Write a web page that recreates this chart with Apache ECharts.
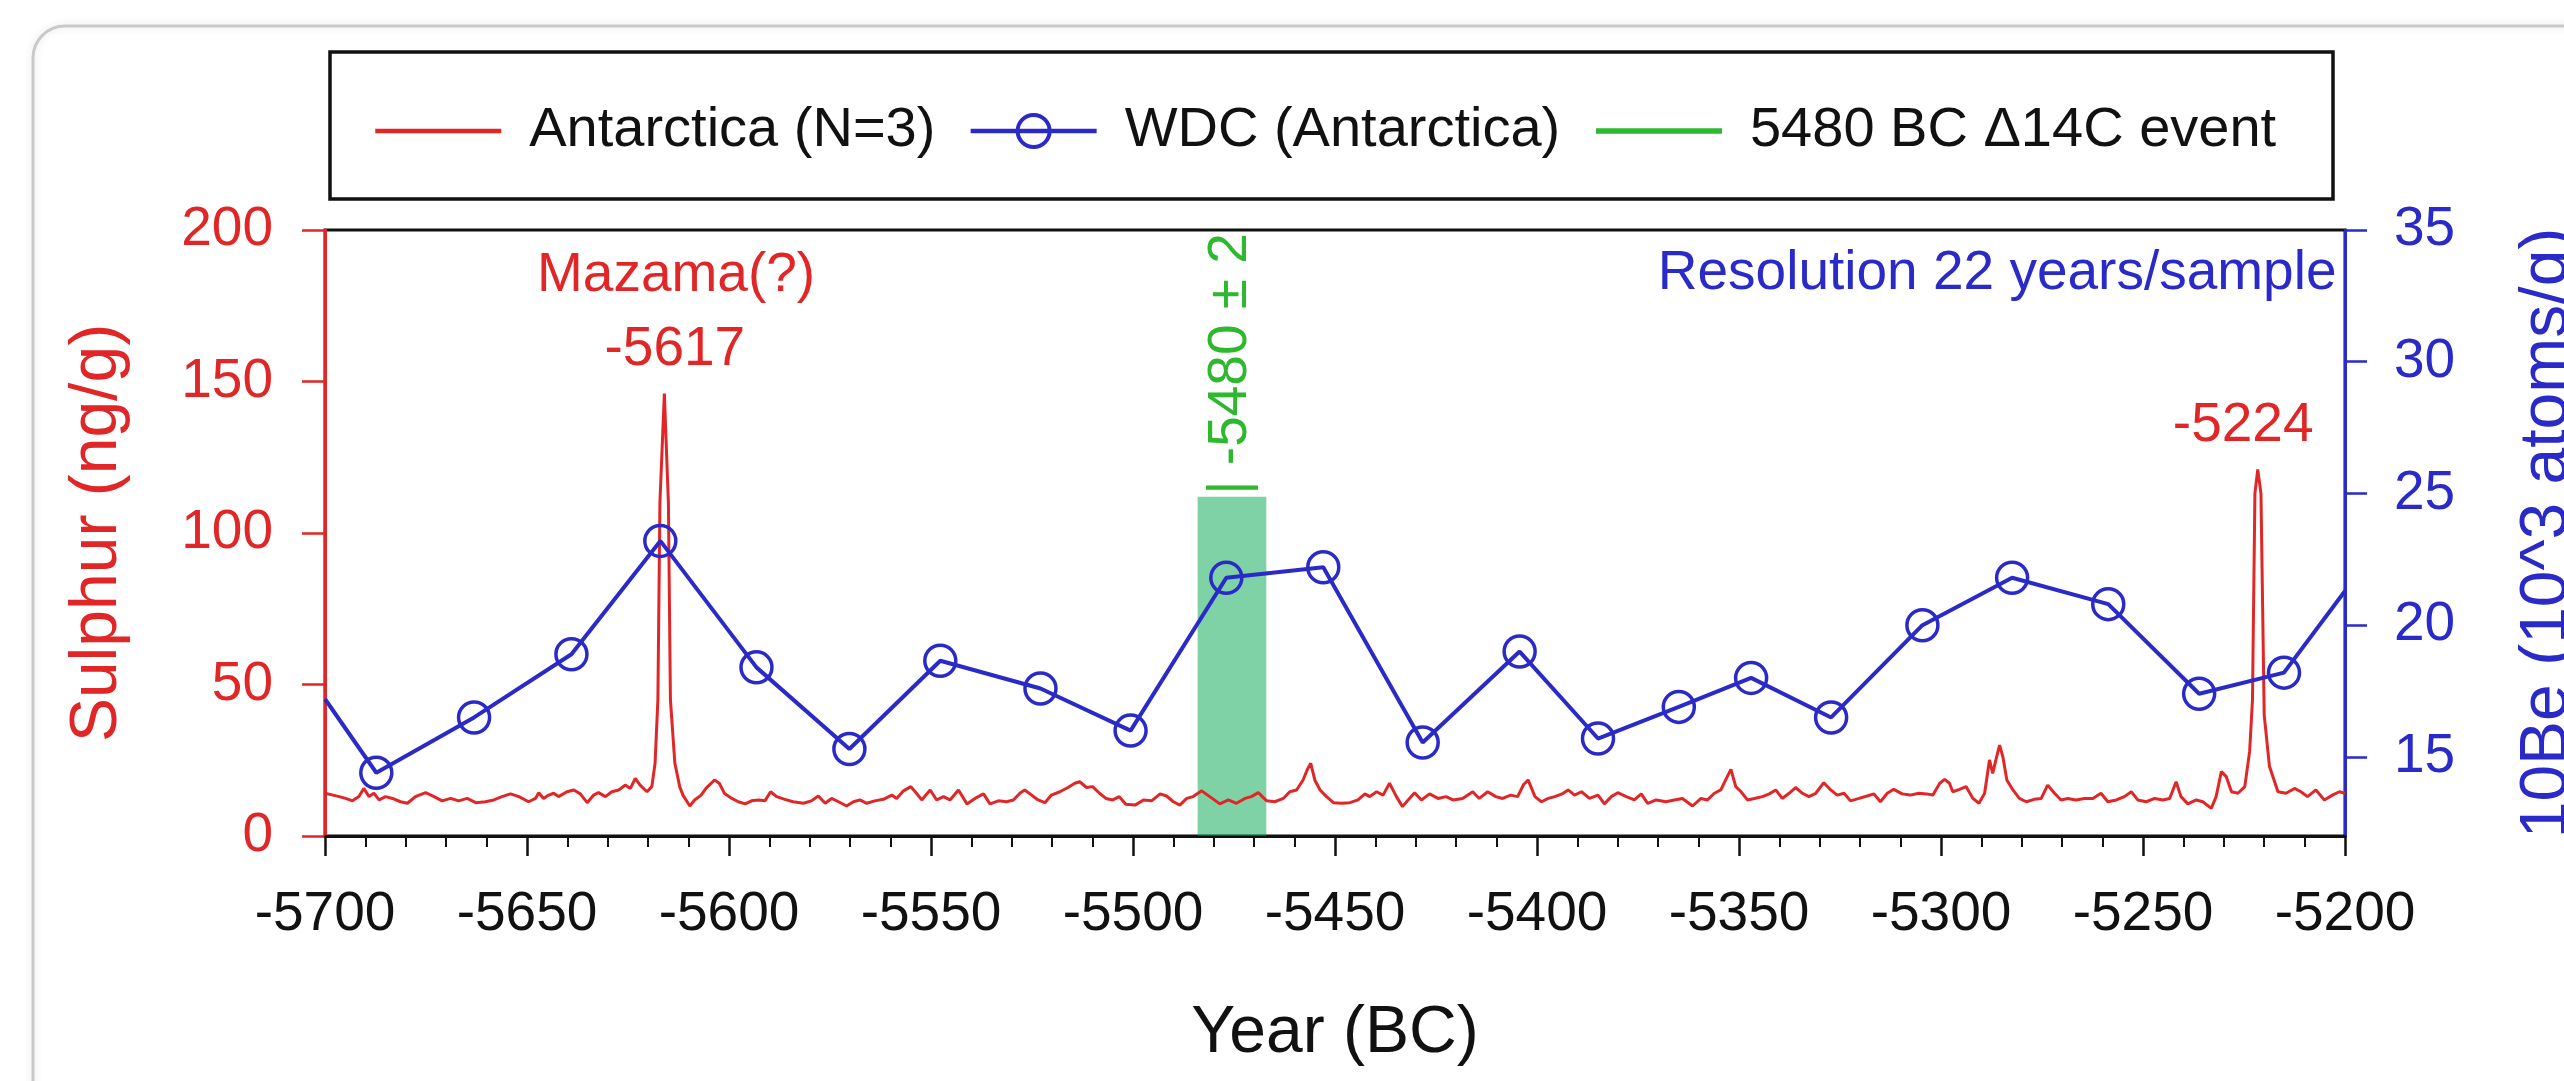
<!DOCTYPE html>
<html>
<head>
<meta charset="utf-8">
<title>Sulphur and 10Be, 5700-5200 BC</title>
<script src="https://cdn.jsdelivr.net/npm/echarts@6/dist/echarts.min.js"></script>
<style>
  html, body { margin: 0; padding: 0; background: #fff; }
  #chart { width: 2564px; height: 1081px; }
</style>
</head>
<body>
<div id="chart"></div>
<script>
const FONT = '"Liberation Sans", Arial, Helvetica, sans-serif';
const RED = "#e02626";
const BLUE = "#2a2ac8";
const GREEN = "#2db82d";
const INK = "#111";

// Antarctica (N=3) sulphur, ng/g
const sulphurYears = [
  -5700, -5698, -5696.5, -5694.9, -5693.2, -5691.6, -5690.4, -5689.1, -5687.9, -5686.6,
  -5685, -5683.3, -5681.3, -5679.6, -5677.6, -5675.1, -5673, -5671, -5668.9, -5666.9,
  -5664.8, -5662.7, -5660.3, -5658.2, -5656.2, -5654.1, -5652, -5649.6, -5647.9, -5647.1,
  -5645.9, -5644.6, -5643.4, -5642.2, -5640.1, -5638.4, -5636.8, -5635.1, -5633.5, -5632.3,
  -5630.6, -5629, -5627.3, -5625.7, -5624.4, -5623.2, -5622, -5620.3, -5619.1, -5618.3,
  -5617.6, -5617.1, -5616, -5615, -5614.5, -5613.4, -5612.2, -5611.4, -5609.7, -5608.5,
  -5606.9, -5605.7, -5603.6, -5602.4, -5601.1, -5599.3, -5597.7, -5596, -5594.4, -5592.7,
  -5591.1, -5589.7, -5588.2, -5586.2, -5584.1, -5581.6, -5579.6, -5577.9, -5576.2, -5574.6,
  -5572.9, -5570.9, -5569.2, -5567.6, -5565.9, -5563.9, -5561.8, -5559.7, -5558.5, -5556.8,
  -5555, -5553.6, -5552.3, -5550.2, -5548.6, -5546.9, -5545.3, -5543.2, -5541.1, -5539.1,
  -5537, -5535.4, -5533.3, -5531.3, -5529.6, -5528, -5526.8, -5525.1, -5523.5, -5521.8,
  -5520.2, -5518.1, -5516.1, -5514.4, -5513.2, -5511.5, -5510, -5508.3, -5506.7, -5505,
  -5503.4, -5501.8, -5499.5, -5497.4, -5495.4, -5493.3, -5491.7, -5490, -5488.4, -5486.7,
  -5485.1, -5483, -5481, -5478.5, -5476.4, -5474.4, -5472.3, -5470.7, -5469, -5466.9,
  -5464.9, -5462.8, -5461.2, -5459.5, -5457.9, -5456.9, -5456, -5455, -5453.7, -5452.1,
  -5450.4, -5448.4, -5446.3, -5444.3, -5442.6, -5441.4, -5439.7, -5438.1, -5436.5, -5434.8,
  -5433.3, -5431.9, -5430.3, -5428.6, -5426.6, -5424.5, -5422.5, -5420.8, -5418.4, -5415.9,
  -5414.3, -5412.2, -5410.2, -5408.5, -5406.5, -5404.8, -5403.3, -5402.2, -5400.5, -5398.9,
  -5397.2, -5395.6, -5393.5, -5392.3, -5390.7, -5389, -5387, -5384.9, -5383.3, -5381.6,
  -5380, -5377.9, -5375.9, -5374.2, -5372.6, -5370.5, -5368.1, -5366, -5364, -5361.5,
  -5359.4, -5357.8, -5356.1, -5354.5, -5353.3, -5352, -5350.8, -5349.5, -5347.9, -5346.2,
  -5344.2, -5342.5, -5340.9, -5339.3, -5337.6, -5336, -5334.3, -5332.7, -5331, -5329,
  -5327.3, -5325.7, -5324, -5322.4, -5320.3, -5318.3, -5316.6, -5315, -5313.3, -5311.7,
  -5309.6, -5307.6, -5305.5, -5303.6, -5302, -5300.3, -5299.1, -5297.9, -5297.1, -5295.4,
  -5293.8, -5292.1, -5290.6, -5289.2, -5288, -5287.2, -5286.5, -5285.5, -5284.7, -5283.7,
  -5282.2, -5280.6, -5278.9, -5276.9, -5275.2, -5273.6, -5271.9, -5270.3, -5268.6, -5266.6,
  -5264.5, -5262.4, -5260.4, -5258.7, -5256.6, -5254.6, -5252.9, -5251.3, -5249.2, -5247.1,
  -5245.1, -5243.4, -5241.8, -5240.6, -5238.9, -5236.8, -5235.2, -5233.1, -5231.9, -5230.6,
  -5229.4, -5228.1, -5226.5, -5224.8, -5223.6, -5222.9, -5222.3, -5221.6, -5220.8, -5220,
  -5218.7, -5216.6, -5214.6, -5212.5, -5210.9, -5209.3, -5207.2, -5205.1, -5203.1, -5201.4,
  -5200
];
const sulphurValues = [
  14.1, 13.5, 13.0, 12.4, 11.6, 13.0, 15.7, 13.0, 14.1, 11.9,
  13.0, 12.4, 11.3, 10.8, 13.0, 14.3, 13.0, 11.6, 12.4, 11.6,
  12.4, 11.0, 11.3, 11.9, 13.0, 13.9, 13.0, 11.3, 12.4, 14.3,
  12.4, 13.5, 14.1, 13.0, 14.6, 15.2, 13.9, 11.0, 13.5, 14.3,
  13.0, 14.6, 15.2, 16.8, 15.7, 19.0, 16.8, 14.6, 16.3, 24,
  45, 110, 146, 110, 45, 24, 16.3, 13.5, 9.9, 11.9,
  13.5, 15.7, 18.5, 17.4, 14.0, 12.4, 11.3, 10.6, 11.6, 11.9,
  11.6, 14.6, 13.0, 12.1, 11.3, 10.8, 11.6, 13.2, 10.8, 12.4,
  11.3, 9.9, 11.3, 11.9, 10.8, 11.6, 12.1, 13.5, 12.4, 14.9,
  16.3, 14.1, 11.9, 15.2, 11.9, 13.0, 11.9, 15.2, 10.6, 12.4,
  13.9, 10.6, 11.6, 11.3, 11.9, 14.1, 15.2, 13.5, 11.9, 11.0,
  13.5, 14.6, 16.0, 17.4, 17.9, 16.0, 16.3, 14.1, 12.4, 11.9,
  13.0, 10.5, 10.2, 11.9, 11.6, 13.9, 13.2, 11.3, 10.2, 12.4,
  13.0, 14.9, 13.0, 10.6, 11.9, 10.8, 12.4, 13.0, 14.3, 11.6,
  11.3, 12.4, 14.6, 15.2, 18.5, 21.8, 24.0, 18.5, 15.2, 13.0,
  11.0, 10.8, 11.0, 11.9, 13.9, 13.0, 14.6, 13.5, 17.4, 13.0,
  9.7, 11.9, 14.3, 11.9, 13.9, 12.4, 13.0, 11.9, 12.4, 14.6,
  12.4, 14.6, 13.0, 12.4, 13.5, 13.0, 17.0, 18.5, 13.0, 11.3,
  12.4, 13.0, 14.1, 15.2, 13.5, 14.6, 12.4, 13.5, 10.6, 13.0,
  14.3, 13.0, 11.9, 13.9, 10.8, 11.9, 11.3, 11.9, 12.4, 9.9,
  12.4, 11.9, 14.1, 15.2, 18.5, 22.0, 16.3, 14.6, 11.9, 12.4,
  13.0, 13.9, 15.2, 12.4, 14.1, 16.0, 14.1, 13.0, 14.1, 17.6,
  15.2, 13.5, 14.1, 11.6, 12.4, 13.2, 13.9, 11.3, 14.1, 15.4,
  13.9, 13.5, 14.1, 13.9, 13.5, 17.4, 18.7, 17.4, 14.6, 15.4,
  16.3, 12.4, 10.8, 14.1, 25.1, 20.7, 24.6, 30.0, 26.2, 18.5,
  15.2, 12.4, 11.3, 12.1, 12.4, 16.8, 14.1, 11.9, 12.4, 11.9,
  12.4, 12.4, 14.1, 11.3, 11.9, 13.0, 14.6, 11.9, 11.3, 12.4,
  11.9, 12.4, 17.9, 13.0, 10.6, 11.9, 11.3, 9.1, 13.0, 21.3,
  19.6, 14.6, 14.1, 16.3, 28, 45, 113, 121, 113, 40,
  23, 14.6, 14.1, 15.7, 14.6, 13.0, 15.2, 11.9, 13.5, 14.6,
  14.1
];

// WDC (Antarctica) 10Be, 10^3 atoms/g
const wdcYears = [
  -5687.3, -5663.1, -5639.0, -5617.0, -5593.2, -5570.2, -5547.7, -5522.9, -5500.6, -5476.9,
  -5452.9, -5428.3, -5404.3, -5384.9, -5364.9, -5347.0, -5327.2, -5304.6, -5282.4, -5258.6,
  -5236.1, -5215.1
];
const wdcValues = [
  14.4, 16.5, 18.9, 23.2, 18.4, 15.3, 18.65, 17.6, 16.0, 21.8,
  22.2, 15.55, 19.0, 15.7, 16.9, 18.0, 16.5, 20.0, 21.8, 20.8,
  17.4, 18.2
];
// where the WDC line meets the left and right frame
const wdcEdgeYears = [-5700, -5200];
const wdcEdgeValues = [17.2, 21.3];

// 5480 BC event band (years, sulphur units)
const eventBand = [-5484, -5467];
const eventTop = 112;

const xTicks = { min: -5700, max: -5200, step: 50 };
const leftTicks = { min: 0, max: 200, step: 50 };
const rightTickValues = [15, 20, 25, 30, 35];

// annotations: [year, sulphur value, text, colour key]
const notes = [
  [-5613.1, 184.8, "Mazama(?)", "red"],
  [-5613.4, 160.4, "-5617", "red"],
  [-5225.2, 135.3, "-5224", "red"],
  [-5286.1, 185.5, "Resolution 22 years/sample", "blue"],
  [-5475.7, 155.8, "| -5480 ± 2", "green"]
];

const colorOf = { red: RED, blue: BLUE, green: GREEN };

const chart = echarts.init(document.getElementById("chart"));

const sulphurData = sulphurYears.map((y, i) => [y, sulphurValues[i]]);
const wdcData = wdcYears.map((y, i) => [y, wdcValues[i]]);
wdcData.unshift({ value: [wdcEdgeYears[0], wdcEdgeValues[0]], symbol: "none" });
wdcData.push({ value: [wdcEdgeYears[1], wdcEdgeValues[1]], symbol: "none" });

const noteMarks = notes.map(([x, y, text, key]) => ({
  coord: [x, y],
  symbol: "circle",
  symbolSize: 0,
  label: {
    show: true,
    position: "inside",
    formatter: text,
    color: colorOf[key],
    fontFamily: FONT,
    fontSize: 55,
    rotate: key === "green" ? 90 : 0
  }
}));

chart.setOption({
  animation: false,
  backgroundColor: "#fff",
  textStyle: { fontFamily: FONT },
  graphic: [
    {
      type: "rect",
      z: -10,
      shape: { x: 33, y: 26, width: 2600, height: 1150, r: 32 },
      style: { fill: "none", stroke: "#c9c9c9", lineWidth: 3, shadowBlur: 8, shadowColor: "rgba(0,0,0,0.12)" }
    },
    {
      type: "rect",
      shape: { x: 330, y: 52, width: 2003, height: 147 },
      style: { fill: "none", stroke: INK, lineWidth: 3.5 }
    }
  ],
  legend: {
    left: 373,
    top: 103,
    padding: 0,
    itemWidth: 126,
    itemHeight: 40,
    itemGap: 33,
    textStyle: { fontFamily: FONT, fontSize: 56, color: INK, padding: [0, 0, 0, 23] },
    data: [
      { name: "Antarctica (N=3)", itemStyle: { opacity: 0 }, lineStyle: { width: 4.5 } },
      { name: "WDC (Antarctica)", lineStyle: { width: 4.5 }, itemStyle: { borderWidth: 4 } },
      { name: "5480 BC Δ14C event", itemStyle: { opacity: 0 }, lineStyle: { width: 5.5 } }
    ]
  },
  grid: {
    left: 325,
    top: 230,
    right: 219,
    bottom: 245,
    outerBoundsMode: "none",
    containLabel: false,
    show: true,
    borderColor: INK,
    borderWidth: 3
  },
  xAxis: {
    type: "value",
    min: xTicks.min,
    max: xTicks.max,
    interval: xTicks.step,
    name: "Year (BC)",
    nameLocation: "middle",
    nameGap: 165,
    nameTextStyle: { fontFamily: FONT, fontSize: 66, color: INK },
    axisLine: { lineStyle: { color: INK, width: 3 } },
    axisTick: { length: 20, lineStyle: { color: INK, width: 2.5 } },
    minorTick: { show: true, splitNumber: 5, length: 11, lineStyle: { color: INK, width: 2 } },
    splitLine: { show: false },
    axisLabel: { fontFamily: FONT, fontSize: 55, color: INK, margin: 51, formatter: (v) => String(v) }
  },
  yAxis: [
    {
      type: "value",
      position: "left",
      min: leftTicks.min,
      max: leftTicks.max,
      interval: leftTicks.step,
      name: "Sulphur (ng/g)",
      nameLocation: "middle",
      nameRotate: 90,
      nameGap: 194,
      nameTextStyle: { fontFamily: FONT, fontSize: 66, color: RED },
      axisLine: { show: true, lineStyle: { color: RED, width: 3 } },
      axisTick: { show: true, length: 23, lineStyle: { color: RED, width: 2.5 } },
      splitLine: { show: false },
      axisLabel: { fontFamily: FONT, fontSize: 55, color: RED, margin: 52 }
    },
    {
      type: "value",
      position: "right",
      min: 12,
      max: 35,
      alignTicks: false,
      name: "10Be (10^3 atoms/g)",
      nameLocation: "middle",
      nameRotate: 90,
      nameGap: 170,
      nameTextStyle: { fontFamily: FONT, fontSize: 66, color: BLUE },
      axisLine: { show: true, lineStyle: { color: BLUE, width: 3 } },
      axisTick: { show: true, length: 22, customValues: rightTickValues, lineStyle: { color: BLUE, width: 2.5 } },
      splitLine: { show: false },
      axisLabel: { fontFamily: FONT, fontSize: 55, color: BLUE, margin: 49, customValues: rightTickValues }
    }
  ],
  series: [
    {
      name: "Antarctica (N=3)",
      type: "line",
      yAxisIndex: 0,
      z: 2,
      data: sulphurData,
      symbol: "none",
      color: RED,
      lineStyle: { color: RED, width: 3 },
      emphasis: { disabled: true },
      markPoint: {
        silent: true,
        animation: false,
        data: noteMarks
      }
    },
    {
      name: "5480 BC Δ14C event",
      type: "line",
      yAxisIndex: 0,
      z: 3,
      data: [],
      symbol: "none",
      color: GREEN,
      lineStyle: { color: GREEN, width: 5 },
      markArea: {
        silent: true,
        itemStyle: { color: "rgba(0,165,75,0.5)" },
        data: [[{ coord: [eventBand[0], 0] }, { coord: [eventBand[1], eventTop] }]]
      }
    },
    {
      name: "WDC (Antarctica)",
      type: "line",
      yAxisIndex: 1,
      z: 4,
      data: wdcData,
      symbol: "circle",
      symbolSize: 31,
      color: BLUE,
      lineStyle: { color: BLUE, width: 4 },
      itemStyle: { color: "rgba(0,0,0,0)", borderColor: BLUE, borderWidth: 3.5 },
      emphasis: { disabled: true }
    }
  ]
});

window.addEventListener("resize", () => chart.resize());
</script>
</body>
</html>
